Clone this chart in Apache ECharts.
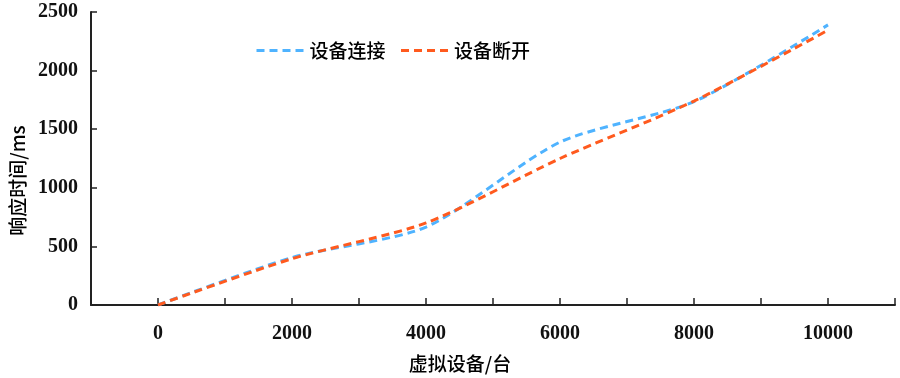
<!DOCTYPE html>
<html>
<head>
<meta charset="utf-8">
<script src="https://cdn.jsdelivr.net/npm/echarts@6/dist/echarts.min.js"></script>
<style>html,body{margin:0;padding:0;background:#fff;}#c{width:900px;height:378px;}</style>
</head>
<body>
<div id="c"></div>
<script>
const devices = [0, 2000, 4000, 6000, 8000, 10000];
const connectValues = [0, 405, 665, 1390, 1735, 2390];
const disconnectValues = [0, 395, 700, 1250, 1740, 2345];
const seriesNames = ['设备连接', '设备断开'];
const xAxisName = '虚拟设备/台';
const yAxisName = '响应时间/ms';

const numFont = '"Liberation Serif", "DejaVu Serif", serif';
const cjkFont = '"Noto Sans CJK SC", sans-serif';

const chart = echarts.init(document.getElementById('c'), null, {renderer: 'canvas'});
chart.setOption({
  animation: false,
  backgroundColor: '#fff',
  grid: {left: 91, right: 5, top: 12, bottom: 73},
  legend: {
    top: 36, left: 250,
    itemWidth: 48, itemHeight: 14, itemGap: 14,
    itemStyle: {opacity: 0},
    lineStyle: {width: 3, type: [8, 5]},
    textStyle: {fontFamily: cjkFont, fontSize: 19, fontWeight: 500, color: '#000'},
    data: seriesNames
  },
  xAxis: {
    type: 'value', min: -1000, max: 11000, interval: 1000,
    name: xAxisName, nameLocation: 'middle', nameGap: 49,
    nameTextStyle: {fontFamily: cjkFont, fontSize: 19, fontWeight: 500, color: '#000', padding: [0, 66, 0, 0]},
    axisLine: {show: true, onZero: false, lineStyle: {color: '#222', width: 2}},
    axisTick: {show: true, inside: true, length: 7, lineStyle: {color: '#222', width: 1.5}},
    splitLine: {show: false},
    axisLabel: {
      margin: 19, fontFamily: numFont, fontSize: 20, fontWeight: 'bold', color: '#111',
      formatter: v => (v >= 0 && v <= 10000 && v % 2000 === 0) ? String(v) : ''
    }
  },
  yAxis: {
    type: 'value', min: 0, max: 2500, interval: 500,
    name: yAxisName, nameLocation: 'middle', nameGap: 64, nameRotate: 90,
    nameTextStyle: {fontFamily: cjkFont, fontSize: 19, fontWeight: 500, color: '#000', padding: [0, 44, 0, 0]},
    axisLine: {show: true, onZero: false, lineStyle: {color: '#222', width: 2}},
    axisTick: {show: true, inside: true, length: 6, lineStyle: {color: '#222', width: 1.5}},
    splitLine: {show: false},
    axisLabel: {margin: 13, fontFamily: numFont, fontSize: 20, fontWeight: 'bold', color: '#111',
      formatter: v => String(v)}
  },
  series: [
    {
      name: seriesNames[0], type: 'line', smooth: 0.25, symbol: 'none',
      data: devices.map((d, i) => [d, connectValues[i]]),
      itemStyle: {color: '#4FB3FF'},
      lineStyle: {color: '#4FB3FF', width: 3, type: [8, 5]}
    },
    {
      name: seriesNames[1], type: 'line', smooth: 0.25, symbol: 'none',
      data: devices.map((d, i) => [d, disconnectValues[i]]),
      itemStyle: {color: '#FF5A1E'},
      lineStyle: {color: '#FF5A1E', width: 3, type: [8, 5]}
    }
  ]
});
</script>
</body>
</html>
